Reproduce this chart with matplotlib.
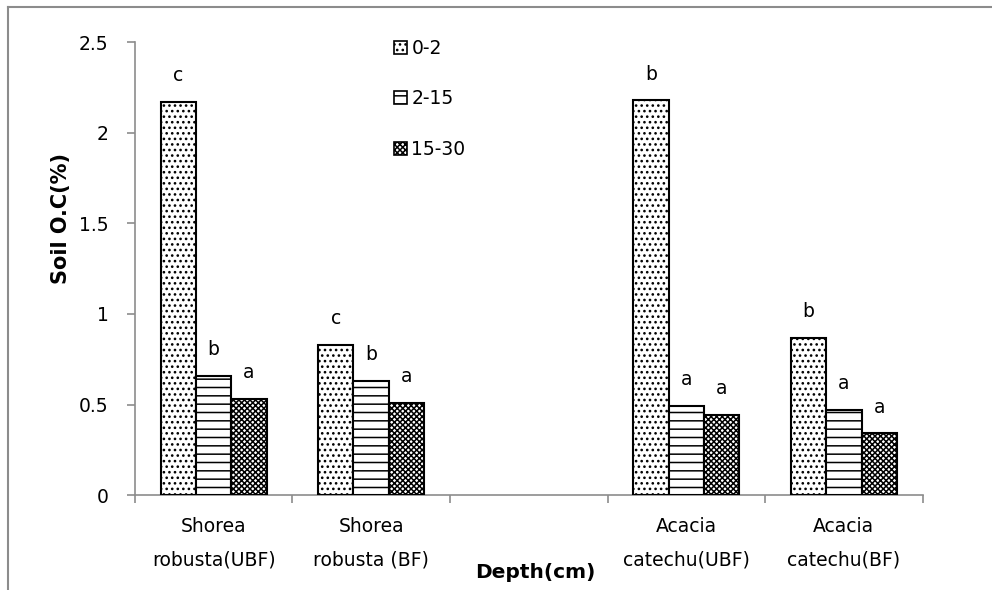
import numpy as np
import matplotlib
matplotlib.use("Agg")
import matplotlib.pyplot as plt
from matplotlib.patches import Patch
from matplotlib.lines import Line2D

# ---------------------------------------------------------------------------
# Data
# ---------------------------------------------------------------------------
CATEGORIES = ["Shorea\nrobusta(UBF)", "Shorea\nrobusta (BF)", "",
              "Acacia\ncatechu(UBF)", "Acacia\ncatechu(BF)"]
SERIES = ["0-2", "2-15", "15-30"]
D_0_2 = [2.17, 0.83, np.nan, 2.18, 0.87]
D_2_15 = [0.66, 0.63, np.nan, 0.49, 0.47]
D_15_30 = [0.53, 0.51, np.nan, 0.44, 0.34]
L_0_2 = ["c", "c", "", "b", "b"]
L_2_15 = ["b", "b", "", "a", "a"]
L_15_30 = ["a", "a", "", "a", "a"]

AXIS_GREY = "#8c8c8c"
HATCHES = ["...", "--", "xxxxxx"]
FS = 13.5

plt.rcParams["font.family"] = ["DejaVu Sans"]
plt.rcParams["hatch.linewidth"] = 1.1


def main() -> None:
    fig = plt.figure(figsize=(9.92, 5.90), dpi=100)
    ax = fig.add_axes([0.136, 0.161, 0.794, 0.767])

    x = np.arange(len(CATEGORIES))
    width = 0.225
    values = [D_0_2, D_2_15, D_15_30]
    letters = [L_0_2, L_2_15, L_15_30]

    for i, (vals, lets, hatch) in enumerate(zip(values, letters, HATCHES)):
        pos = x + (i - 1) * width
        ax.bar(pos, vals, width, facecolor="white", edgecolor="black",
               hatch=hatch, linewidth=1.5, zorder=3)
        for p, v, t in zip(pos, vals, lets):
            if np.isnan(v):
                continue
            ax.annotate(t, (p, v), xytext=(0, 19), textcoords="offset points",
                        ha="center", va="center", fontsize=FS)

    ax.set_xlim(-0.5, len(CATEGORIES) - 0.5)
    ax.set_ylim(0, 2.5)
    ax.set_yticks([0, 0.5, 1, 1.5, 2, 2.5])
    ax.set_yticklabels(["0", "0.5", "1", "1.5", "2", "2.5"])

    ax.set_xticks(x)
    ax.set_xticklabels(CATEGORIES, fontsize=FS, linespacing=1.95)
    ax.set_xticks(np.arange(len(CATEGORIES) + 1) - 0.5, minor=True)
    ax.tick_params(axis="x", which="major", length=0, pad=16)
    ax.tick_params(axis="x", which="minor", length=6, color=AXIS_GREY,
                   direction="out", width=1.2)
    ax.tick_params(axis="y", length=6, color=AXIS_GREY, direction="out",
                   width=1.2, labelsize=FS, pad=13)

    for side in ("top", "right"):
        ax.spines[side].set_visible(False)
    for side in ("left", "bottom"):
        ax.spines[side].set_color(AXIS_GREY)
        ax.spines[side].set_linewidth(1.2)

    fig.text(0.061, 1 - 219 / 590, "Soil O.C(%)", rotation=90,
             ha="center", va="center", fontsize=15, fontweight="bold")
    fig.text(535 / 992, 1 - 572 / 590, "Depth(cm)", ha="center",
             va="center", fontsize=14.5, fontweight="bold")

    handles = [Patch(facecolor="white", edgecolor="black", hatch=h,
                     linewidth=1.2) for h in HATCHES]
    ax.legend(handles, SERIES, loc="upper left",
              bbox_to_anchor=(0.307, 1.045), frameon=False,
              fontsize=FS, handlelength=0.7, handleheight=0.7,
              handletextpad=0.25, labelspacing=1.68)

    # chart border (top and left visible in the crop)
    fig.add_artist(Line2D([8 / 992, 8 / 992], [0, 1 - 7 / 590],
                          color=AXIS_GREY, linewidth=1.5))
    fig.add_artist(Line2D([8 / 992, 1], [1 - 7 / 590, 1 - 7 / 590],
                          color=AXIS_GREY, linewidth=1.5))

    fig.savefig("out.png", dpi=100, facecolor="white")
    plt.close(fig)


if __name__ == "__main__":
    main()
